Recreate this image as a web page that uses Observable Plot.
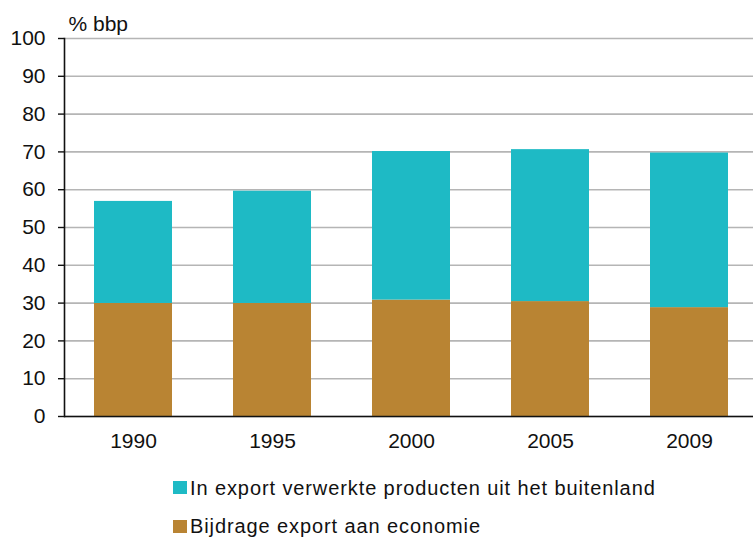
<!DOCTYPE html>
<html>
<head>
<meta charset="utf-8">
<script src="https://cdn.jsdelivr.net/npm/d3@7"></script>
<script src="https://cdn.jsdelivr.net/npm/@observablehq/plot@0.6"></script>
<style>
  html, body { margin: 0; padding: 0; background: #fff; }
  #wrap { position: relative; width: 753px; height: 537px; font-family: "Liberation Sans", Arial, sans-serif; color: #111; }
  #chart { position: absolute; left: 0; top: 0; }
  .leg { position: absolute; left: 173px; display: flex; align-items: center; font-size: 20px; letter-spacing: 0.9px; line-height: 24px; white-space: nowrap; }
  .sw { width: 14px; height: 13px; margin-right: 3px; }
</style>
</head>
<body>
<div id="wrap"><div id="chart"></div></div>
<script>
const years = ["1990", "1995", "2000", "2005", "2009"];
const seriesNames = ["Bijdrage export aan economie", "In export verwerkte producten uit het buitenland"];
const seriesColors = ["#B98433", "#1EBAC5"];
const bijdrage = [29.9, 29.9, 30.8, 30.4, 28.8];
const verwerkt = [27.0, 29.7, 39.3, 40.2, 40.9];
const yTicks = [0, 10, 20, 30, 40, 50, 60, 70, 80, 90, 100];
const yLabel = "% bbp";

const rows = years.flatMap((yr, i) => [
  {year: yr, series: seriesNames[0], value: bijdrage[i]},
  {year: yr, series: seriesNames[1], value: verwerkt[i]}
]);

const chart = Plot.plot({
  width: 753,
  height: 460,
  marginLeft: 64,
  marginRight: 0,
  marginTop: 38,
  marginBottom: 44,
  style: {fontFamily: "'Liberation Sans', Arial, sans-serif", fontSize: "21px", color: "#111", background: "#fff"},
  x: {domain: years, range: [62.3, 759.3], paddingInner: 0.44, paddingOuter: 0.22, label: null},
  y: {domain: [0, 100], label: null},
  color: {domain: seriesNames, range: seriesColors},
  marks: [
    Plot.gridY(yTicks, {stroke: "#b5b5b5", strokeOpacity: 1, strokeWidth: 1.6}),
    Plot.barY(rows, {x: "year", y: "value", fill: "series"}),
    Plot.ruleY([0], {stroke: "#111", strokeWidth: 1.6}),
    Plot.frame({anchor: "left", stroke: "#111", strokeWidth: 1.6}),
    Plot.axisY(yTicks, {tickSize: 6, tickPadding: 13, fontSize: 21, label: null, stroke: "#111", strokeWidth: 1.4}),
    Plot.axisX({tickSize: 0, tickPadding: 17, fontSize: 21, label: null}),
    Plot.text([yLabel], {text: d => d, frameAnchor: "top-left", dx: 4, dy: -22, textAnchor: "start", fontSize: 21})
  ]
});
document.getElementById("chart").appendChild(chart);

const wrap = document.getElementById("wrap");
const legendOrder = [1, 0];
const legendTops = [475.5, 514];
legendOrder.forEach((k, j) => {
  const row = document.createElement("div");
  row.className = "leg";
  row.style.top = legendTops[j] + "px";
  const sw = document.createElement("span");
  sw.className = "sw";
  sw.style.background = seriesColors[k];
  const t = document.createElement("span");
  t.textContent = seriesNames[k];
  row.appendChild(sw);
  row.appendChild(t);
  wrap.appendChild(row);
});
</script>
</body>
</html>
